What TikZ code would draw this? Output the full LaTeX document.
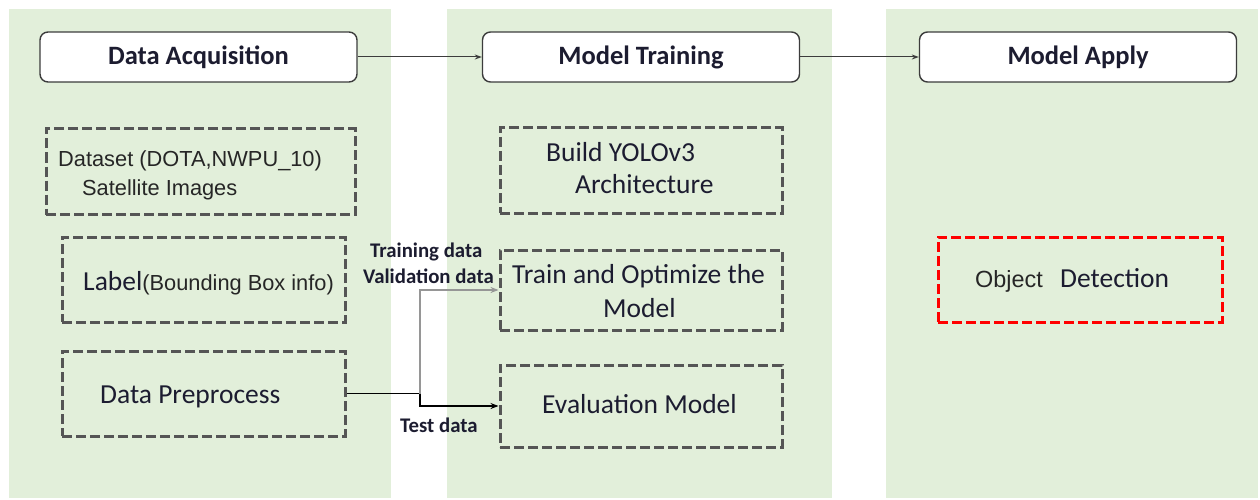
\documentclass[tikz,border=0pt]{standalone}
\usepackage{fontspec}
\setmainfont{Carlito}
\newfontfamily\arialf{Liberation Sans}
\usetikzlibrary{arrows.meta,calc}

\definecolor{panelgreen}{RGB}{226,239,218}
\definecolor{boxgray}{RGB}{85,85,85}
\definecolor{headline}{RGB}{60,60,60}
\definecolor{inkblue}{RGB}{28,28,48}
\definecolor{flowgray}{RGB}{150,150,150}
\definecolor{alertred}{RGB}{255,0,0}

\tikzset{
  panel/.style={fill=panelgreen},
  headbox/.style={draw=headline, line width=1.4pt, fill=white, rounded corners=8pt,
    minimum width=317pt, minimum height=50pt, inner sep=0pt,
    font=\fontsize{26.5}{30}\selectfont\bfseries, text=inkblue},
  dbox/.style={draw=boxgray, line width=3pt, dash pattern=on 10pt off 4pt,
    minimum width=283pt, minimum height=85pt, inner sep=0pt},
  redbox/.style={dbox, draw=alertred},
  txt/.style={anchor=base west, inner sep=0pt, text=inkblue},
  calib/.style={txt, font=\fontsize{27.5}{32}\selectfont},
  arl/.style={txt, font=\arialf\fontsize{21.8}{26}\selectfont, text=black!85},
  flowlabel/.style={txt, font=\fontsize{20.8}{24}\selectfont\bfseries},
  headarrow/.style={draw=headline, line width=1pt, -{Stealth[length=7pt,width=5pt]}},
  flow/.style={line width=1.8pt, -{Stealth[length=8pt,width=6pt]}}
}

\begin{document}
\begin{tikzpicture}[x=1pt,y=-1pt]
\useasboundingbox (0,0) rectangle (1260,500);

% three stage panels
\fill[panel] (9,9) rectangle (391,498);
\fill[panel] (447,9) rectangle (832,498);
\fill[panel] (886,9) rectangle (1258,498);

% stage headers
\node[headbox] (acq) at (198.5,57) {Data Acquisition};
\node[headbox] (train) at (641,57) {Model Training};
\node[headbox] (apply) at (1078,57) {Model Apply};
\draw[headarrow] (acq.east) -- (train.west);
\draw[headarrow] (train.east) -- (apply.west);

% data acquisition steps
\node[dbox, minimum width=309pt, minimum height=86pt] (dataset) at (200.5,171.5) {};
\node[arl] (datasetA) at (58,166) {Dataset (DOTA,NWPU\_10)};
\node[arl] (datasetB) at (82,195) {Satellite Images};

\node[dbox] (label) at (203.5,279.5) {};
\node[txt, font=\fontsize{27.5}{32}\selectfont] (labelT) at (83,290)
  {Label{\arialf\fontsize{21.8}{26}\selectfont\color{black!85}(Bounding Box info)}};

\node[dbox] (prep) at (203.5,393.5) {};
\node[calib] (prepT) at (100,403) {Data Preprocess};

% model training steps
\node[dbox, minimum width=282pt] (yolo) at (641,170.5) {};
\node[calib] (yoloA) at (546,161) {Build YOLOv3};
\node[calib] (yoloB) at (575,193) {Architecture};

\node[dbox, minimum width=282pt, minimum height=80pt] (optim) at (641,290) {};
\node[calib] (optimA) at (512,283) {Train and Optimize the};
\node[calib] (optimB) at (603,317) {Model};

\node[dbox, minimum width=282pt, minimum height=82pt] (evalm) at (641,406) {};
\node[calib] (evalT) at (542,413) {Evaluation Model};

% model apply step
\node[redbox, minimum width=284pt] (detect) at (1080,279.5) {};
\node[txt, font=\arialf\fontsize{23.4}{28}\selectfont, text=black!85] (detA) at (975,287) {Object};
\node[calib] (detB) at (1060,287) {Detection};

% data split connectors
\coordinate (split) at (420,393.5);
\draw[line width=1.8pt] (prep.east) -- (split);
\draw[flow, draw=flowgray] (split) |- (optim.west);
\draw[flow] (split) |- (evalm.west);

\node[flowlabel] (trlab) at (370,257) {Training data};
\node[flowlabel] (valab) at (363,283) {Validation data};
\node[flowlabel] (telab) at (400,432) {Test data};
\end{tikzpicture}
\end{document}
